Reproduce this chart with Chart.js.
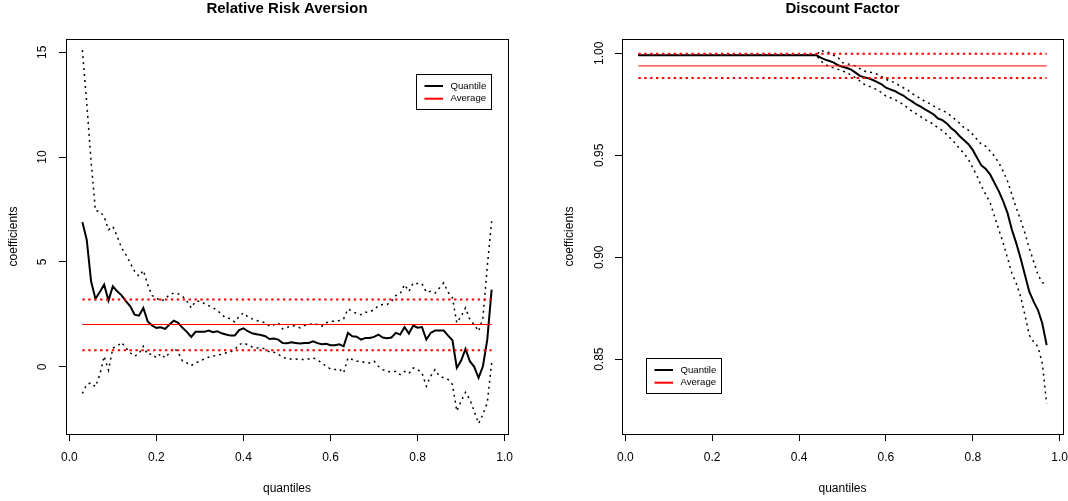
<!DOCTYPE html>
<html>
<head>
<meta charset="utf-8">
<script src="https://cdn.jsdelivr.net/npm/chart.js@4/dist/chart.umd.min.js"></script>
<style>
  html, body { margin: 0; padding: 0; background: #fff; }
  #wrap { position: relative; width: 1068px; height: 501px; }
  .panel { position: absolute; top: 0; width: 534px; height: 501px; }
</style>
</head>
<body>
<div id="wrap">
  <div class="panel" style="left:0"><canvas id="rraChart" width="534" height="501"></canvas></div>
  <div class="panel" style="left:534px"><canvas id="dfChart" width="534" height="501"></canvas></div>
</div>
<script>
const quantiles = [
  0.03, 0.04, 0.05, 0.06, 0.07, 0.08, 0.09, 0.10, 0.11, 0.12,
  0.13, 0.14, 0.15, 0.16, 0.17, 0.18, 0.19, 0.20, 0.21, 0.22,
  0.23, 0.24, 0.25, 0.26, 0.27, 0.28, 0.29, 0.30, 0.31, 0.32,
  0.33, 0.34, 0.35, 0.36, 0.37, 0.38, 0.39, 0.40, 0.41, 0.42,
  0.43, 0.44, 0.45, 0.46, 0.47, 0.48, 0.49, 0.50, 0.51, 0.52,
  0.53, 0.54, 0.55, 0.56, 0.57, 0.58, 0.59, 0.60, 0.61, 0.62,
  0.63, 0.64, 0.65, 0.66, 0.67, 0.68, 0.69, 0.70, 0.71, 0.72,
  0.73, 0.74, 0.75, 0.76, 0.77, 0.78, 0.79, 0.80, 0.81, 0.82,
  0.83, 0.84, 0.85, 0.86, 0.87, 0.88, 0.89, 0.90, 0.91, 0.92,
  0.93, 0.94, 0.95, 0.96, 0.97
];

const xTicks = [0, 0.2, 0.4, 0.6, 0.8, 1.0];
const xTickLabels = ["0.0", "0.2", "0.4", "0.6", "0.8", "1.0"];

// Relative Risk Aversion
const rraTicks = [0, 5, 10, 15];
const rraTickLabels = ["0", "5", "10", "15"];

const rraQuantile = [
  6.90, 6.06, 4.08, 3.25, 3.57, 3.92, 3.16, 3.84, 3.60, 3.41,
  3.13, 2.89, 2.49, 2.44, 2.81, 2.17, 1.97, 1.86, 1.89, 1.81,
  2.02, 2.20, 2.10, 1.86, 1.67, 1.43, 1.67, 1.67, 1.67, 1.73,
  1.65, 1.70, 1.60, 1.54, 1.49, 1.49, 1.75, 1.84, 1.70, 1.60,
  1.56, 1.52, 1.46, 1.33, 1.35, 1.30, 1.14, 1.13, 1.17, 1.14,
  1.11, 1.14, 1.14, 1.22, 1.13, 1.08, 1.10, 1.03, 1.03, 1.08,
  0.98, 1.62, 1.46, 1.44, 1.30, 1.38, 1.38, 1.43, 1.54, 1.40,
  1.37, 1.40, 1.62, 1.54, 1.89, 1.59, 1.97, 1.87, 1.90, 1.30,
  1.62, 1.73, 1.73, 1.73, 1.49, 1.27, -0.05, 0.30, 0.86, 0.27,
  0.00, -0.52, 0.03, 1.30, 3.68
];

const rraUpper = [
  15.10, 12.60, 9.80, 7.45, 7.41, 7.17, 6.54, 6.70, 6.22, 5.67,
  5.35, 4.95, 4.56, 4.32, 4.60, 3.92, 3.40, 3.29, 3.13, 3.24,
  3.44, 3.52, 3.49, 3.37, 3.13, 2.81, 3.13, 3.13, 3.02, 2.92,
  2.81, 2.70, 2.49, 2.33, 2.30, 2.14, 2.41, 2.57, 2.38, 2.29,
  2.21, 2.16, 2.10, 1.94, 2.00, 2.10, 1.81, 1.87, 1.97, 1.94,
  1.86, 1.97, 2.02, 2.06, 2.02, 1.94, 2.10, 2.17, 2.17, 2.21,
  2.29, 2.76, 2.65, 2.54, 2.49, 2.60, 2.62, 2.73, 2.92, 2.97,
  2.97, 3.13, 3.40, 3.49, 3.92, 3.60, 4.00, 3.97, 3.97, 3.56,
  3.60, 3.52, 3.76, 4.00, 3.56, 3.29, 2.10, 2.41, 2.81, 2.25,
  2.02, 1.70, 2.33, 4.79, 6.94
];

const rraLower = [
  -1.27, -0.84, -0.76, -0.95, -0.37, 0.51, -0.16, 0.90, 0.98, 1.17,
  0.90, 0.67, 0.51, 0.63, 0.98, 0.59, 0.62, 0.43, 0.63, 0.43,
  0.67, 0.90, 0.70, 0.27, 0.19, 0.06, 0.19, 0.27, 0.38, 0.46,
  0.51, 0.56, 0.59, 0.67, 0.70, 0.83, 1.06, 1.14, 1.06, 0.95,
  0.90, 0.90, 0.86, 0.70, 0.70, 0.59, 0.48, 0.38, 0.38, 0.38,
  0.35, 0.35, 0.38, 0.43, 0.32, 0.19, 0.03, -0.10, -0.13, -0.10,
  -0.29, 0.43, 0.35, 0.27, 0.27, 0.19, 0.19, 0.27, 0.03, -0.13,
  -0.21, -0.25, -0.21, -0.37, -0.21, -0.32, -0.05, -0.13, -0.29, -0.92,
  -0.44, -0.13, -0.44, -0.52, -0.60, -0.84, -2.11, -1.63, -1.21, -1.56,
  -2.11, -2.70, -2.27, -1.71, 0.19
];

const rraAverage = 2.02;
const rraAverageHigh = 3.21;
const rraAverageLow = 0.79;

// Discount Factor
const dfTicks = [0.85, 0.90, 0.95, 1.00];
const dfTickLabels = ["0.85", "0.90", "0.95", "1.00"];

const dfQuantile = [
  0.999, 0.999, 0.999, 0.999, 0.999, 0.999, 0.999, 0.999, 0.999, 0.999,
  0.999, 0.999, 0.999, 0.999, 0.999, 0.999, 0.999, 0.999, 0.999, 0.999,
  0.999, 0.999, 0.999, 0.999, 0.999, 0.999, 0.999, 0.999, 0.999, 0.999,
  0.999, 0.999, 0.999, 0.999, 0.999, 0.999, 0.999, 0.999, 0.999, 0.999,
  0.999, 0.999, 0.9979, 0.9969, 0.9962, 0.9954, 0.9941, 0.9934, 0.9928, 0.9920,
  0.9905, 0.9889, 0.9882, 0.9877, 0.9869, 0.9859, 0.9848, 0.9831, 0.9823, 0.9815,
  0.9803, 0.9793, 0.9777, 0.9764, 0.9749, 0.9738, 0.9725, 0.9713, 0.9700, 0.9680,
  0.9672, 0.9656, 0.9634, 0.9616, 0.9593, 0.9574, 0.9554, 0.9525, 0.9487, 0.9449,
  0.9433, 0.9405, 0.9364, 0.9323, 0.9274, 0.9216, 0.9134, 0.9069, 0.8995, 0.8913,
  0.8831, 0.8782, 0.8741, 0.8675, 0.8569
];

const dfUpper = [
  0.999, 0.999, 0.999, 0.999, 0.999, 0.999, 0.999, 0.999, 0.999, 0.999,
  0.999, 0.999, 0.999, 0.999, 0.999, 0.999, 0.999, 0.999, 0.999, 0.999,
  0.999, 0.999, 0.999, 0.999, 0.999, 0.999, 0.999, 0.999, 0.999, 0.999,
  0.999, 0.999, 0.999, 0.999, 0.999, 0.999, 0.999, 0.999, 0.999, 0.999,
  0.999, 0.999, 1.0015, 1.0007, 1.0003, 0.9990, 0.9979, 0.9954, 0.9949, 0.9944,
  0.9938, 0.9925, 0.9913, 0.9908, 0.9905, 0.9897, 0.9885, 0.9872, 0.9864, 0.9856,
  0.9843, 0.9831, 0.9820, 0.9803, 0.9790, 0.9777, 0.9764, 0.9754, 0.9741, 0.9728,
  0.9721, 0.9708, 0.9692, 0.9675, 0.9656, 0.9634, 0.9623, 0.9602, 0.9577, 0.9552,
  0.9544, 0.9520, 0.9495, 0.9462, 0.9421, 0.9372, 0.9307, 0.9241, 0.9184, 0.9118,
  0.9044, 0.8979, 0.8913, 0.8875, 0.8869
];

const dfLower = [
  0.999, 0.999, 0.999, 0.999, 0.999, 0.999, 0.999, 0.999, 0.999, 0.999,
  0.999, 0.999, 0.999, 0.999, 0.999, 0.999, 0.999, 0.999, 0.999, 0.999,
  0.999, 0.999, 0.999, 0.999, 0.999, 0.999, 0.999, 0.999, 0.999, 0.999,
  0.999, 0.999, 0.999, 0.999, 0.999, 0.999, 0.999, 0.999, 0.999, 0.999,
  0.999, 0.999, 0.9962, 0.9946, 0.9934, 0.9928, 0.9921, 0.9913, 0.9905, 0.9892,
  0.9880, 0.9864, 0.9848, 0.9839, 0.9831, 0.9820, 0.9807, 0.9790, 0.9782, 0.9774,
  0.9761, 0.9749, 0.9733, 0.9716, 0.9703, 0.9689, 0.9675, 0.9664, 0.9651, 0.9634,
  0.9621, 0.9602, 0.9580, 0.9557, 0.9531, 0.9508, 0.9479, 0.9438, 0.9397, 0.9348,
  0.9307, 0.9266, 0.9200, 0.9134, 0.9069, 0.8995, 0.8921, 0.8872, 0.8807, 0.8716,
  0.8618, 0.8585, 0.8561, 0.8479, 0.8282
];

const dfAverage = 0.9938;
const dfAverageHigh = 0.9998;
const dfAverageLow = 0.9879;

const legendLabels = ["Quantile", "Average"];

Chart.defaults.font.family = "'Liberation Sans', Arial, Helvetica, sans-serif";
Chart.defaults.color = "#000";

const BLACK = "#000000";
const RED = "#ff0000";
const DOTS = [2, 4];
const RED_DOTS = [2.4, 3.5];

function seriesSet(values, label, color, width, dash) {
  return {
    label: label,
    data: quantiles.map((q, i) => ({ x: q, y: values[i] })),
    borderColor: color,
    borderWidth: width,
    borderDash: dash || [],
    borderCapStyle: "butt",
    pointRadius: 0,
    tension: 0,
    fill: false
  };
}

function levelSet(level, label, color, width, dash) {
  const first = quantiles[0];
  const last = quantiles[quantiles.length - 1];
  return {
    label: label,
    data: [{ x: first, y: level }, { x: last, y: level }],
    borderColor: color,
    borderWidth: width,
    borderDash: dash || [],
    borderCapStyle: "butt",
    pointRadius: 0,
    tension: 0,
    fill: false
  };
}

// box round the plot region, like R's box()
const plotBox = {
  id: "plotBox",
  afterDraw(chart) {
    const { ctx, chartArea: a } = chart;
    ctx.save();
    ctx.strokeStyle = "#000";
    ctx.lineWidth = 1;
    ctx.strokeRect(a.left + 0.5, a.top + 0.5, a.right - a.left, a.bottom - a.top);
    ctx.restore();
  }
};

// R-style legend box, placed by inset from a corner of the plot region
const insetLegend = {
  id: "insetLegend",
  afterDraw(chart, args, opts) {
    const { ctx, chartArea: a } = chart;
    const w = 75;
    const h = 35;
    const left = opts.corner === "topright" ? a.right - opts.dx - w : a.left + opts.dx;
    const top = opts.corner === "topright" ? a.top + opts.dy : a.bottom - opts.dy - h;

    ctx.save();
    ctx.fillStyle = "#fff";
    ctx.fillRect(left, top, w, h);
    ctx.strokeStyle = "#000";
    ctx.lineWidth = 1;
    ctx.strokeRect(Math.round(left) + 0.5, Math.round(top) + 0.5, w, h);

    ctx.font = "9.6px 'Liberation Sans', Arial, sans-serif";
    ctx.textBaseline = "middle";
    ctx.textAlign = "left";

    legendLabels.forEach((text, i) => {
      const ds = chart.data.datasets.find((d) => d.label === text);
      const y = top + 12 + i * 12.7;
      ctx.strokeStyle = ds ? ds.borderColor : "#000";
      ctx.lineWidth = 2;
      ctx.setLineDash([]);
      ctx.beginPath();
      ctx.moveTo(left + 8.5, y);
      ctx.lineTo(left + 27, y);
      ctx.stroke();
      ctx.fillStyle = "#000";
      ctx.fillText(text, left + 34.5, y);
    });
    ctx.restore();
  }
};

function buildChart(canvasId, cfg) {
  const canvas = document.getElementById(canvasId);
  return new Chart(canvas, {
    type: "line",
    data: { datasets: cfg.datasets },
    options: {
      responsive: false,
      animation: false,
      events: [],
      layout: { padding: { left: 0, right: cfg.padRight, top: 0, bottom: 0 } },
      plugins: {
        legend: { display: false },
        tooltip: { enabled: false },
        title: {
          display: true,
          text: cfg.title,
          fullSize: false,
          color: "#000",
          font: { size: 15, weight: "bold", lineHeight: 1 },
          padding: { top: 1, bottom: 23 }
        },
        insetLegend: cfg.legend
      },
      scales: {
        x: {
          type: "linear",
          min: -0.0076,
          max: 1.0076,
          afterBuildTicks: (axis) => { axis.ticks = xTicks.map((v) => ({ value: v })); },
          afterFit: (axis) => {
            axis.height = 67;
            axis.paddingLeft = 0;
            axis.paddingRight = 0;
          },
          grid: { drawOnChartArea: false, drawTicks: true, tickLength: 7, color: "#000", lineWidth: 1 },
          border: { display: true, color: "#000", width: 1 },
          ticks: {
            color: "#000",
            font: { size: 12 },
            padding: 9.5,
            maxRotation: 0,
            autoSkip: false,
            callback: (v, i) => xTickLabels[i]
          },
          title: {
            display: true,
            text: "quantiles",
            color: "#000",
            font: { size: 12 },
            padding: { top: 0, bottom: 5.5 }
          }
        },
        y: {
          type: "linear",
          min: cfg.yMin,
          max: cfg.yMax,
          afterBuildTicks: (axis) => { axis.ticks = cfg.yTicks.map((v) => ({ value: v })); },
          afterFit: (axis) => {
            axis.width = cfg.yWidth;
            axis.paddingTop = 0;
            axis.paddingBottom = 0;
          },
          grid: { drawOnChartArea: false, drawTicks: true, tickLength: 7, color: "#000", lineWidth: 1 },
          border: { display: true, color: "#000", width: 1 },
          ticks: {
            color: "#000",
            font: { size: 12 },
            padding: cfg.yPad,
            minRotation: 90,
            maxRotation: 90,
            crossAlign: "center",
            autoSkip: false,
            callback: (v, i) => cfg.yTickLabels[i]
          },
          title: {
            display: true,
            text: "coefficients",
            color: "#000",
            font: { size: 12 },
            padding: { top: cfg.yTitlePad, bottom: 0 }
          }
        }
      }
    },
    plugins: [plotBox, insetLegend]
  });
}

buildChart("rraChart", {
  title: "Relative Risk Aversion",
  padRight: 26,
  yWidth: 66,
  yPad: 9.3,
  yTitlePad: 6,
  yMin: -3.2,
  yMax: 15.63,
  yTicks: rraTicks,
  yTickLabels: rraTickLabels,
  legend: { corner: "topright", dx: 17, dy: 35 },
  datasets: [
    levelSet(rraAverage, "Average", RED, 1),
    levelSet(rraAverageHigh, "", RED, 2, RED_DOTS),
    levelSet(rraAverageLow, "", RED, 2, RED_DOTS),
    seriesSet(rraQuantile, "Quantile", BLACK, 2),
    seriesSet(rraUpper, "", BLACK, 1.5, DOTS),
    seriesSet(rraLower, "", BLACK, 1.5, DOTS)
  ]
});

buildChart("dfChart", {
  title: "Discount Factor",
  padRight: 5,
  yWidth: 88,
  yPad: 4,
  yTitlePad: 28,
  yMin: 0.8133,
  yMax: 1.0070,
  yTicks: dfTicks,
  yTickLabels: dfTickLabels,
  legend: { corner: "bottomleft", dx: 24, dy: 41 },
  datasets: [
    levelSet(dfAverage, "Average", RED, 1),
    levelSet(dfAverageHigh, "", RED, 2, RED_DOTS),
    levelSet(dfAverageLow, "", RED, 2, RED_DOTS),
    seriesSet(dfQuantile, "Quantile", BLACK, 2),
    seriesSet(dfUpper, "", BLACK, 1.5, DOTS),
    seriesSet(dfLower, "", BLACK, 1.5, DOTS)
  ]
});
</script>
</body>
</html>
